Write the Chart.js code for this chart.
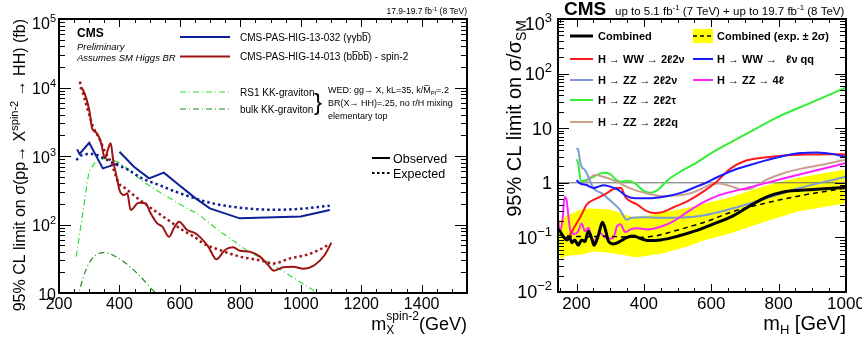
<!DOCTYPE html>
<html>
<head>
<meta charset="utf-8">
<script src="https://cdn.jsdelivr.net/npm/chart.js@4.4.0/dist/chart.umd.min.js"></script>
<style>
body { margin: 0; background: #fff; width: 862px; height: 341px; overflow: hidden; position: relative; }
canvas { position: absolute; top: 0; }
#left { left: 0; }
#right { left: 480px; }
</style>
</head>
<body>
<canvas id="left" width="480" height="341"></canvas>
<canvas id="right" width="382" height="341"></canvas>
<script>
// ---- left panel: spin-2 X -> HH limits (fb) ----
const redObsMass = [269,280,300,310,323,333,340,352,363,371,380,393,400,415,426,437,464,486,503,525,542,564,580,597,624,650,666,694,721,749,776,798,831,865,892,911,942,975,1008,1046,1079,1101];
const redObsXsec = [10000,9100,4700,2500,2200,1850,1500,925,1295,1530,826,447,319,269,285,163,208,204,146,104,93,66,88,110,83,75,66,47.5,31,42.5,46.5,41.5,40,34,25.6,21.2,23.7,24.2,22.6,25.6,35.9,54];
const redExpMass = [269,289,313,336,352,374,385,398,420,453,498,553,608,633,657,677,732,798,865,909,964,1019,1063,1096];
const redExpXsec = [12150,5880,2680,1713,1156,781,559,399,337,255,182,123,83,72,62,53,42.5,34,30,27,32,36,43,52];
const blueObsMass = [260,268,300,345,396,398,400,448,498,547,597,650,699,798,1000,1096];
const blueObsXsec = [1250,1070,1560,660,780,null,1156,698,472,571,378,245,172,123,131,163];
const blueExpMass = [257,277,310,349,393,420,475,531,586,633,699,798,909,1002,1096];
const blueExpXsec = [875,1035,1070,925,739,661,472,378,301,255,208,176,164,170,188];
const rs1Mass = [257,299,321,349,376,404,437,486,531,586,633,657,720,820,909,1057,1080];
const rs1Xsec = [34,590,826,925,875,782,590,399,301,215,163,146,87,42.5,25.6,9.9,8.5];
const bulkMass = [262,266,299,349,398,453,520,530];
const bulkXsec = [8,10,27,38.8,32,20.5,10,9.2];
const leftXTicks = [200,400,600,800,1000,1200,1400];
const leftYExps = [1,2,3,4,5];

// ---- right panel: SM-like Higgs limits (sigma/sigma_SM) ----
const combMass = [145,151,161,171,181,186,195,205,215,225,235,245,252,265,277,287,295,310,330,350,370,390,410,450,500,550,600,660,715,765,814,864,913,1000];
const combObs = [0.14,0.13,0.103,0.09,0.096,0.08,0.09,0.072,0.09,0.084,0.13,0.096,0.072,0.11,0.19,0.13,0.085,0.076,0.085,0.1,0.106,0.095,0.088,0.09,0.105,0.13,0.17,0.24,0.38,0.55,0.68,0.73,0.76,0.83];
const combExpMass = [145,185,235,285,335,385,433,483,532,580,666,765,864,1000];
const combExp = [0.11,0.105,0.103,0.105,0.102,0.1,0.106,0.127,0.155,0.19,0.3,0.43,0.58,0.8];
const bandMass = [145,155,165,175,190,210,235,245,275,300,315,335,365,375,410,460,510,530,570,660,765,860,1000];
const bandLow = [0.059,0.04,0.045,0.046,0.047,0.048,0.052,0.055,0.054,0.052,0.05,0.048,0.044,0.043,0.046,0.052,0.063,0.068,0.085,0.12,0.2,0.3,0.42];
const bandHigh = [0.19,0.22,0.24,0.26,0.28,0.32,0.34,0.34,0.33,0.32,0.3,0.27,0.24,0.24,0.25,0.29,0.33,0.35,0.4,0.55,0.9,1.25,1.75];
const ww2l2vMass = [165,180,195,215,230,255,285,320,332,345,360,380,405,430,455,490,530,575,616,656,696,745,814,884,963,1000];
const ww2l2v = [0.095,0.11,0.16,0.26,0.4,0.5,0.62,0.8,0.8,0.55,0.46,0.4,0.31,0.28,0.29,0.36,0.46,0.68,1.05,1.8,2.45,2.85,3.15,3.3,3.35,3.3];
const wwlvqqMass = [200,210,230,250,265,280,295,324,349,374,413,463,512,552,582,616,666,715,765,814,864,913,963,1000];
const wwlvqq = [1.12,0.98,0.91,0.8,0.85,0.9,0.87,0.74,0.57,0.52,0.52,0.56,0.66,0.83,0.98,1.25,1.7,2.12,2.6,3.1,3.5,3.6,3.35,2.95];
const zz2l2tMass = [200,205,213,225,250,280,299,319,334,349,374,398,418,443,473,512,552,600,700,800,900,1000];
const zz2l2t = [2.7,2.3,1.05,1.1,1.29,1.53,1.45,1.12,1.04,1.09,0.98,0.72,0.66,0.76,1.15,1.65,2.25,3.5,7.6,16.3,30,56];
const zz2l2vMass = [200,205,210,215,225,235,250,275,304,329,349,364,400,450,530,580,656,755,854,1000];
const zz2l2v = [4.3,4.0,2.6,1.97,1.71,1.29,0.8,0.64,0.45,0.32,0.21,0.23,0.235,0.23,0.235,0.255,0.33,0.5,0.78,1.29];
const zz2l2qMass = [225,255,280,319,359,408,458,537,597,625,655,690,710,765,814,864,913,1000];
const zz2l2q = [1.0,1.39,1.29,1.05,0.79,0.64,0.57,0.64,0.91,0.97,0.88,0.75,0.76,1.15,1.5,1.8,2.05,2.65];
const zz4lMass = [145,150,158,165,170,176,182,195,205,215,225,235,250,260,270,285,300,310,320,330,345,360,380,410,440,483,532,580,616,715,814,913,1000];
const zz4l = [0.22,0.13,0.2,0.55,0.5,0.24,0.13,0.115,0.13,0.18,0.13,0.15,0.08,0.1,0.12,0.1,0.095,0.1,0.16,0.175,0.125,0.14,0.147,0.14,0.15,0.19,0.3,0.45,0.57,0.83,1.2,1.7,2.3];
const unityMass = [145,1000];
const unity = [1,1];
const rightXTicks = [200,400,600,800,1000];
const rightYExps = [-2,-1,0,1,2,3];

const FONT = '"Liberation Sans", Arial, Helvetica, sans-serif';

function pts(xs, ys) {
    return xs.map((x, i) => ({x: x, y: ys[i]}));
}

// draws text made of pieces: [text, font, dy]
function rich(c, x, y, parts, align) {
    let w = 0;
    parts.forEach(p => { c.font = p[1]; w += c.measureText(p[0]).width; });
    let cx = align === 'right' ? x - w : (align === 'center' ? x - w / 2 : x);
    c.textAlign = 'left';
    c.textBaseline = 'alphabetic';
    parts.forEach(p => {
        c.font = p[1];
        c.fillText(p[0], cx, y + (p[2] || 0));
        cx += c.measureText(p[0]).width;
    });
}

function powLabel(c, exp, xRight, yMid, size) {
    const base = exp === 0 ? '1' : '10';
    const sup = (exp === 0 || exp === 1) ? '' : String(exp).replace('-', '\u2212');
    const parts = [[base, size + 'px ' + FONT, 0]];
    if (sup) parts.push([sup, Math.round(size * 0.7) + 'px ' + FONT, -size * 0.45]);
    rich(c, xRight, yMid + size * 0.36, parts, 'right');
}

// ROOT-like frame with ticks inside on all four sides
function drawFrame(chart, o) {
    const c = chart.ctx, a = chart.chartArea, sx = chart.scales.x, sy = chart.scales.y;
    c.save();
    c.strokeStyle = '#000';
    c.lineWidth = 1;
    c.beginPath();
    for (let v = o.xFirst; v <= sx.max + 1e-6; v += o.xStep) {
        const major = Math.abs((v - o.xMajorFrom) % o.xMajor) < 1e-6;
        const len = major ? o.xMajLen : o.xMinLen;
        const px = Math.round(sx.getPixelForValue(v)) + 0.5;
        c.moveTo(px, a.bottom); c.lineTo(px, a.bottom - len);
        c.moveTo(px, a.top); c.lineTo(px, a.top + len);
    }
    const e0 = Math.round(Math.log10(sy.min)), e1 = Math.round(Math.log10(sy.max));
    for (let e = e0; e < e1; e++) {
        for (let k = 1; k <= 9; k++) {
            const len = k === 1 ? o.yMajLen : o.yMinLen;
            const py = Math.round(sy.getPixelForValue(k * Math.pow(10, e))) + 0.5;
            c.moveTo(a.left, py); c.lineTo(a.left + len, py);
            c.moveTo(a.right, py); c.lineTo(a.right - len, py);
        }
    }
    c.stroke();
    c.lineWidth = 2;
    c.strokeRect(a.left, a.top, a.right - a.left, a.bottom - a.top);
    c.restore();
}

function legLine(c, x0, x1, y, color, width, dash) {
    c.save();
    c.strokeStyle = color;
    c.lineWidth = width;
    c.setLineDash(dash || []);
    c.beginPath(); c.moveTo(x0, y); c.lineTo(x1, y); c.stroke();
    c.restore();
}

const leftDecor = {
    id: 'leftDecor',
    afterDraw(chart) {
        const c = chart.ctx, sx = chart.scales.x, sy = chart.scales.y;
        drawFrame(chart, {xFirst: 200, xStep: 50, xMajorFrom: 200, xMajor: 200, xMajLen: 8, xMinLen: 4, yMajLen: 12, yMinLen: 6});
        c.save();
        c.fillStyle = '#000';
        leftYExps.forEach(e => {
            const py = sy.getPixelForValue(Math.pow(10, e));
            powLabel(c, e, 56, py + (e === 5 ? 4 : 1), 16);
        });
        leftXTicks.forEach(v => rich(c, sx.getPixelForValue(v), 309, [[String(v), '16px ' + FONT]], 'center'));

        // x title m_X^{spin-2}(GeV)
        c.font = '18px ' + FONT;
        const wm = c.measureText('m').width;
        c.font = '12px ' + FONT;
        const wsup = c.measureText('spin-2').width;
        c.font = '18px ' + FONT;
        const wg = c.measureText('(GeV)').width;
        let x0 = 467 - wm - wsup - wg;
        rich(c, x0, 330, [['m', '18px ' + FONT]], 'left');
        rich(c, x0 + wm, 334, [['X', '12px ' + FONT]], 'left');
        rich(c, x0 + wm, 320, [['spin-2', '12px ' + FONT]], 'left');
        rich(c, x0 + wm + wsup, 330, [['(GeV)', '18px ' + FONT]], 'left');

        // y title
        c.save();
        c.translate(25, 19);
        c.rotate(-Math.PI / 2);
        rich(c, 0, 0, [['95% CL limit on \u03c3(pp\u2192 X', '16px ' + FONT], ['spin-2', '11px ' + FONT, -7], [' \u2192 HH) (fb)', '16px ' + FONT]], 'right');
        c.restore();

        rich(c, 467, 14, [['17.9-19.7 fb', '8.5px ' + FONT], ['-1', '6px ' + FONT, -3.5], [' (8 TeV)', '8.5px ' + FONT]], 'right');
        rich(c, 77, 37, [['CMS', 'bold 12px ' + FONT]], 'left');
        rich(c, 77, 50, [['Preliminary', 'italic 9.5px ' + FONT]], 'left');
        rich(c, 77, 61, [['Assumes SM Higgs BR', 'italic 9.5px ' + FONT]], 'left');

        legLine(c, 180, 230, 37, '#0d1f96', 2);
        legLine(c, 180, 230, 56.5, '#9e1414', 2);
        rich(c, 240, 41, [['CMS-PAS-HIG-13-032 (\u03b3\u03b3bb\u0305)', '10px ' + FONT]], 'left');
        rich(c, 240, 60, [['CMS-PAS-HIG-14-013 (bb\u0305bb\u0305) - spin-2', '10px ' + FONT]], 'left');
        legLine(c, 180, 230, 92, '#2ee02e', 1.2, [6, 3, 1, 3]);
        legLine(c, 180, 230, 109, '#1f8a1f', 1.2, [6, 3, 1, 3]);
        rich(c, 240, 96, [['RS1 KK-graviton', '10px ' + FONT]], 'left');
        rich(c, 240, 113, [['bulk KK-graviton', '10px ' + FONT]], 'left');
        rich(c, 314, 110, [['}', '24px ' + FONT]], 'left');
        rich(c, 328, 93, [['WED: gg\u2192 X, kL=35, k/M\u0305', '9px ' + FONT], ['Pl', '6px ' + FONT, 2], ['=.2', '9px ' + FONT]], 'left');
        rich(c, 328, 106, [['BR(X\u2192 HH)=.25, no r/H mixing', '9px ' + FONT]], 'left');
        rich(c, 328, 119, [['elementary top', '9px ' + FONT]], 'left');

        legLine(c, 372, 390, 158, '#000', 2);
        legLine(c, 372, 390, 173, '#000', 2, [2.5, 2.5]);
        rich(c, 393, 162.5, [['Observed', '12.5px ' + FONT]], 'left');
        rich(c, 393, 177.5, [['Expected', '12.5px ' + FONT]], 'left');
        c.restore();
    }
};

const rightDecor = {
    id: 'rightDecor',
    afterDraw(chart) {
        const c = chart.ctx, sx = chart.scales.x, sy = chart.scales.y;
        drawFrame(chart, {xFirst: 150, xStep: 50, xMajorFrom: 200, xMajor: 200, xMajLen: 8, xMinLen: 4, yMajLen: 11, yMinLen: 6});
        c.save();
        c.fillStyle = '#000';
        rightYExps.forEach(e => {
            const py = sy.getPixelForValue(Math.pow(10, e));
            powLabel(c, e, 72, py + (e === 3 ? 5 : 0), 18);
        });
        rightXTicks.forEach(v => rich(c, sx.getPixelForValue(v), 309, [[String(v), '17px ' + FONT]], 'center'));
        rich(c, 366, 330, [['m', '20px ' + FONT], ['H', '13px ' + FONT, 4], [' [GeV]', '20px ' + FONT]], 'right');

        c.save();
        c.translate(41, 20);
        c.rotate(-Math.PI / 2);
        rich(c, 0, 0, [['95% CL limit on \u03c3/\u03c3', '20px ' + FONT], ['SM', '14px ' + FONT, 5]], 'right');
        c.restore();

        rich(c, 84, 15, [['CMS', 'bold 19px ' + FONT]], 'left');
        rich(c, 135, 15, [['up to 5.1 fb', '11.5px ' + FONT], ['-1', '8px ' + FONT, -5], [' (7 TeV) + up to 19.7 fb', '11.5px ' + FONT], ['-1', '8px ' + FONT, -5], [' (8 TeV)', '11.5px ' + FONT]], 'left');

        // legend
        const B = 'bold 11px ' + FONT;
        legLine(c, 90, 113, 36, '#000', 3);
        rich(c, 118, 40, [['Combined', B]], 'left');
        c.fillStyle = '#ffff00';
        c.fillRect(213, 29, 20, 14);
        c.fillStyle = '#000';
        legLine(c, 213, 233, 36, '#000', 1.5, [4, 3]);
        rich(c, 237, 40, [['Combined (exp. \u00b1 2\u03c3)', B]], 'left');
        legLine(c, 90, 113, 59, '#ff1a1a', 2);
        rich(c, 118, 63, [['H \u2192 WW \u2192 2\u21132\u03bd', B]], 'left');
        legLine(c, 213, 233, 59, '#1a1aff', 2);
        rich(c, 237, 63, [['H \u2192 WW \u2192   \u2113\u03bd qq', B]], 'left');
        legLine(c, 90, 113, 80, '#7a9bd6', 2);
        rich(c, 118, 84, [['H \u2192 ZZ \u2192 2\u21132\u03bd', B]], 'left');
        legLine(c, 213, 233, 80, '#ff22ff', 2);
        rich(c, 237, 84, [['H \u2192 ZZ \u2192 4\u2113', B]], 'left');
        legLine(c, 90, 113, 100, '#33ee33', 2);
        rich(c, 118, 104, [['H \u2192 ZZ \u2192 2\u21132\u03c4', B]], 'left');
        legLine(c, 90, 113, 122, '#c8a08c', 2);
        rich(c, 118, 126, [['H \u2192 ZZ \u2192 2\u21132q', B]], 'left');
        c.restore();
    }
};

function baseOptions(pad, xmin, xmax, ymin, ymax) {
    return {
        responsive: false,
        animation: false,
        layout: { padding: pad },
        plugins: { legend: { display: false }, tooltip: { enabled: false } },
        elements: { point: { radius: 0 }, line: { fill: false } },
        scales: {
            x: { type: 'linear', min: xmin, max: xmax, display: false },
            y: { type: 'logarithmic', min: ymin, max: ymax, display: false }
        }
    };
}

new Chart(document.getElementById('left'), {
    type: 'line',
    data: {
        datasets: [
            { data: pts(redObsMass, redObsXsec), borderColor: '#9e1414', borderWidth: 2, cubicInterpolationMode: 'monotone', order: 1 },
            { data: pts(redExpMass, redExpXsec), borderColor: '#9e1414', borderWidth: 2.5, borderDash: [2.5, 3], cubicInterpolationMode: 'monotone', order: 2 },
            { data: pts(blueObsMass, blueObsXsec), borderColor: '#0d1f96', borderWidth: 2, tension: 0, order: 3 },
            { data: pts(blueExpMass, blueExpXsec), borderColor: '#0d1f96', borderWidth: 2.5, borderDash: [2.5, 3], cubicInterpolationMode: 'monotone', order: 4 },
            { data: pts(rs1Mass, rs1Xsec), borderColor: '#2ee02e', borderWidth: 1.2, borderDash: [6, 3, 1, 3], tension: 0, order: 5 },
            { data: pts(bulkMass, bulkXsec), borderColor: '#1f8a1f', borderWidth: 1.2, borderDash: [6, 3, 1, 3], cubicInterpolationMode: 'monotone', order: 6 }
        ]
    },
    options: baseOptions({ left: 59, right: 13, top: 19, bottom: 48 }, 200, 1550, 10, 1e5),
    plugins: [leftDecor]
});

new Chart(document.getElementById('right'), {
    type: 'line',
    data: {
        datasets: [
            { data: pts(bandMass, bandLow), borderWidth: 0, borderColor: 'rgba(0,0,0,0)', fill: false, order: 20 },
            { data: pts(bandMass, bandHigh), borderWidth: 0, borderColor: 'rgba(0,0,0,0)', backgroundColor: '#ffff00', fill: '-1', order: 19 },
            { data: pts(unityMass, unity), borderColor: '#666666', borderWidth: 1, order: 18 },
            { data: pts(zz2l2tMass, zz2l2t), borderColor: '#33ee33', borderWidth: 2, cubicInterpolationMode: 'monotone', order: 8 },
            { data: pts(zz2l2qMass, zz2l2q), borderColor: '#c8a08c', borderWidth: 2, cubicInterpolationMode: 'monotone', order: 7 },
            { data: pts(zz2l2vMass, zz2l2v), borderColor: '#7a9bd6', borderWidth: 2, cubicInterpolationMode: 'monotone', order: 6 },
            { data: pts(zz4lMass, zz4l), borderColor: '#ff22ff', borderWidth: 2, cubicInterpolationMode: 'monotone', order: 5 },
            { data: pts(ww2l2vMass, ww2l2v), borderColor: '#ff1a1a', borderWidth: 2, cubicInterpolationMode: 'monotone', order: 4 },
            { data: pts(wwlvqqMass, wwlvqq), borderColor: '#1a1aff', borderWidth: 2, cubicInterpolationMode: 'monotone', order: 3 },
            { data: pts(combExpMass, combExp), borderColor: '#000', borderWidth: 1.5, borderDash: [5, 4], cubicInterpolationMode: 'monotone', order: 2 },
            { data: pts(combMass, combObs), borderColor: '#000', borderWidth: 3, cubicInterpolationMode: 'monotone', order: 1 }
        ]
    },
    options: baseOptions({ left: 78, right: 16, top: 19, bottom: 49 }, 145, 1000, 0.01, 1000),
    plugins: [rightDecor]
});
</script>
</body>
</html>
